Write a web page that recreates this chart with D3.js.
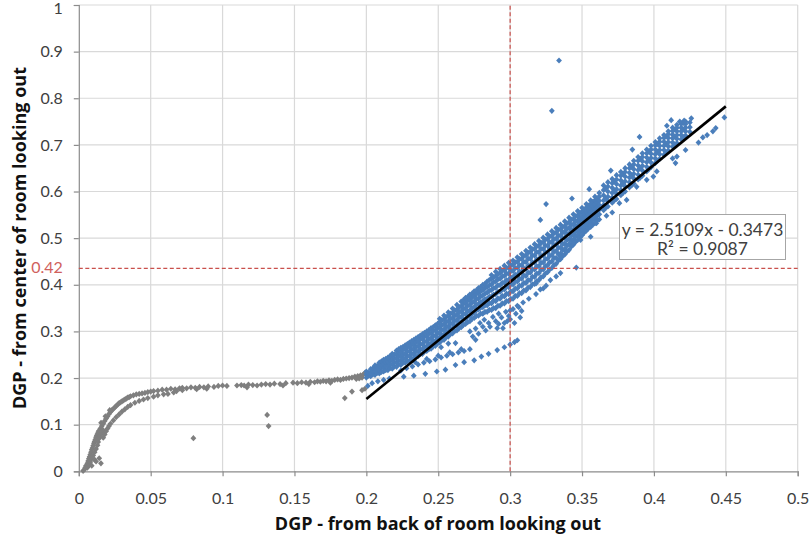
<!DOCTYPE html>
<html><head><meta charset="utf-8">
<script src="https://cdn.jsdelivr.net/npm/d3@7"></script>
<style>body{margin:0;background:#fff}svg{display:block}</style>
</head><body>
<svg id="c" width="810" height="547"></svg>
<script>
// ---------- data ----------
const xTicks = [0, 0.05, 0.1, 0.15, 0.2, 0.25, 0.3, 0.35, 0.4, 0.45, 0.5];
const xTickLabels = ["0", "0.05", "0.1", "0.15", "0.2", "0.25", "0.3", "0.35", "0.4", "0.45", "0.5"];
const yTicks = [0, 0.1, 0.2, 0.3, 0.4, 0.5, 0.6, 0.7, 0.8, 0.9, 1];
const yTickLabels = ["0", "0.1", "0.2", "0.3", "0.4", "0.5", "0.6", "0.7", "0.8", "0.9", "1"];
const xTitle = "DGP - from back of room looking out";
const yTitle = "DGP - from center of room looking out";
const refX = 0.3;            // vertical marker line
const refYDrawn = 0.435;     // horizontal marker line as drawn in the picture
const refYLabel = "0.42";
const trendSlope = 2.5109, trendIntercept = -0.3473, trendDomain = [0.2, 0.45];
const eqLines = ["y = 2.5109x - 0.3473", "R\u00B2 = 0.9087"];

// gray series (x < 0.2)
const grayPts = [
[0.003,0.001],[0.004,0.004],[0.0045,0.008],[0.005,0.012],[0.006,0.017],[0.0065,0.022],[0.007,0.027],[0.0075,0.031],[0.008,0.036],[0.0085,0.041],[0.009,0.046],[0.0095,0.05],[0.010,0.055],[0.0105,0.06],[0.011,0.064],[0.0115,0.068],[0.012,0.073],[0.0125,0.077],[0.013,0.08],[0.0135,0.084],[0.014,0.087],[0.015,0.092],[0.016,0.097],[0.017,0.102],[0.018,0.108],[0.019,0.113],[0.020,0.118],[0.021,0.123],[0.022,0.127],[0.023,0.131],[0.024,0.134],[0.025,0.137],[0.026,0.140],[0.027,0.143],[0.028,0.146],[0.029,0.148],[0.030,0.150],[0.031,0.152],[0.032,0.154],[0.033,0.156],[0.034,0.158],[0.035,0.159],[0.036,0.161],[0.038,0.163],[0.040,0.165],[0.042,0.166],[0.044,0.167],[0.046,0.168],[0.048,0.170],[0.050,0.171],
[0.006,0.008],[0.007,0.013],[0.008,0.02],[0.009,0.027],[0.010,0.034],[0.011,0.041],[0.012,0.048],[0.013,0.056],[0.0135,0.063],[0.014,0.07],[0.015,0.076],[0.016,0.082],[0.017,0.088],[0.009,0.012],[0.011,0.025],[0.0155,0.104],[0.0185,0.118],[0.0215,0.131],
[0.017,0.072],[0.018,0.079],[0.019,0.086],[0.020,0.092],[0.021,0.097],[0.022,0.102],[0.024,0.109],[0.026,0.116],[0.028,0.122],[0.030,0.128],[0.032,0.133],[0.034,0.138],[0.036,0.142],[0.039,0.147],[0.042,0.151],[0.045,0.154],[0.048,0.157],[0.052,0.160],[0.055,0.163],[0.059,0.165],[0.062,0.166],[0.066,0.169],
[0.012,0.021],[0.0154,0.017],[0.0142,0.028],[0.0797,0.071],[0.131,0.121],[0.132,0.097],[0.185,0.157],[0.19,0.171],[0.197,0.174],[0.199,0.177],
[0.052,0.172],[0.055,0.173],[0.058,0.175],[0.061,0.175],[0.064,0.177],[0.067,0.176],[0.070,0.178],[0.072,0.179],[0.075,0.178],[0.078,0.180],[0.081,0.179],[0.084,0.181],[0.087,0.180],[0.090,0.182],[0.094,0.181],[0.097,0.183],[0.100,0.184],[0.103,0.183],
[0.110,0.184],[0.113,0.185],[0.115,0.184],[0.118,0.186],[0.121,0.185],[0.124,0.184],[0.127,0.186],[0.130,0.187],[0.133,0.186],[0.136,0.188],[0.140,0.187],[0.144,0.189],[0.149,0.190],[0.152,0.189],[0.155,0.191],[0.158,0.190],[0.161,0.192],[0.164,0.191],[0.166,0.193],[0.168,0.192],[0.170,0.194],[0.172,0.193],[0.174,0.195],[0.176,0.194],[0.178,0.196],[0.180,0.197],[0.182,0.196],[0.184,0.198],[0.186,0.199],[0.188,0.200],[0.190,0.201],[0.192,0.203],[0.194,0.204],[0.196,0.206],[0.198,0.208],[0.199,0.211],[0.197,0.201],[0.195,0.199],[0.193,0.198],
[0.068,0.172],[0.072,0.174],[0.082,0.176],[0.089,0.177],[0.117,0.180],[0.142,0.184],[0.160,0.187],[0.175,0.190]
];

// blue series: dense band, listed as columns [x, [y values]]
const blueBand = [
[0.200,[0.201,0.208,0.214]],[0.2015,[0.205,0.211]],
[0.203,[0.204,0.211,0.219]],[0.2045,[0.208,0.215,0.221]],
[0.206,[0.207,0.214,0.222,0.227]],[0.2075,[0.211,0.219,0.226]],
[0.209,[0.210,0.218,0.226,0.233]],[0.2105,[0.213,0.222,0.229,0.236]],
[0.212,[0.214,0.222,0.231,0.239]],[0.2135,[0.217,0.226,0.234,0.241]],
[0.215,[0.217,0.226,0.235,0.244]],[0.2165,[0.221,0.230,0.239,0.247]],
[0.218,[0.220,0.229,0.238,0.247,0.252]],[0.2195,[0.225,0.234,0.243,0.251]],
[0.221,[0.224,0.233,0.242,0.251,0.259]],[0.2225,[0.229,0.238,0.247,0.256,0.262]],
[0.224,[0.228,0.237,0.247,0.256,0.265]],[0.2255,[0.233,0.242,0.251,0.261,0.267]],
[0.227,[0.233,0.242,0.252,0.262,0.270]],[0.2285,[0.237,0.247,0.257,0.266,0.273]],
[0.230,[0.237,0.247,0.257,0.267,0.276]],[0.2315,[0.242,0.252,0.262,0.271,0.279]],
[0.233,[0.242,0.252,0.262,0.272,0.282]],[0.2345,[0.246,0.257,0.267,0.277,0.285]],
[0.236,[0.247,0.257,0.268,0.278,0.288]],[0.2375,[0.251,0.262,0.272,0.283,0.291]],
[0.239,[0.252,0.262,0.273,0.284,0.294]],[0.2405,[0.257,0.267,0.278,0.289,0.297]],
[0.242,[0.258,0.268,0.279,0.290,0.300]],[0.2435,[0.262,0.273,0.284,0.295,0.303]],
[0.245,[0.263,0.274,0.285,0.296,0.307]],[0.2465,[0.268,0.279,0.290,0.301,0.309]],
[0.248,[0.269,0.280,0.291,0.302,0.313]],[0.2495,[0.274,0.285,0.296,0.307,0.316]],
[0.251,[0.276,0.287,0.298,0.309,0.320,0.327]],[0.2525,[0.281,0.292,0.303,0.314,0.324]],
[0.254,[0.282,0.293,0.304,0.315,0.326,0.334]],[0.2555,[0.287,0.298,0.309,0.320,0.331]],
[0.257,[0.289,0.300,0.311,0.322,0.333,0.341]],[0.2585,[0.294,0.305,0.316,0.327,0.338]],
[0.260,[0.296,0.307,0.318,0.329,0.340,0.349]],[0.2615,[0.301,0.312,0.323,0.334,0.345]],
[0.263,[0.302,0.313,0.324,0.336,0.347,0.357]],[0.2645,[0.307,0.318,0.330,0.341,0.352]],
[0.266,[0.309,0.320,0.331,0.343,0.354,0.364]],[0.2675,[0.314,0.325,0.337,0.348,0.359,0.367]],
[0.269,[0.316,0.327,0.338,0.350,0.361,0.372]],[0.2705,[0.320,0.332,0.343,0.355,0.366,0.374]],
[0.272,[0.322,0.334,0.345,0.357,0.368,0.379]],[0.2735,[0.327,0.338,0.350,0.362,0.373,0.381]],
[0.275,[0.329,0.341,0.352,0.364,0.375,0.386]],[0.2765,[0.333,0.345,0.357,0.369,0.380,0.388]],
[0.278,[0.334,0.347,0.359,0.371,0.382,0.393]],[0.2795,[0.338,0.351,0.363,0.375,0.386,0.395]],
[0.281,[0.338,0.352,0.365,0.377,0.389,0.400]],[0.2825,[0.342,0.356,0.369,0.381,0.393,0.402]],
[0.284,[0.342,0.356,0.370,0.383,0.395,0.407]],[0.2855,[0.346,0.361,0.374,0.387,0.399,0.410]],
[0.287,[0.346,0.360,0.375,0.389,0.401,0.413,0.421]],[0.2885,[0.350,0.366,0.379,0.393,0.406,0.416]],
[0.290,[0.350,0.365,0.380,0.394,0.407,0.419,0.428]],[0.2915,[0.355,0.371,0.385,0.399,0.412,0.423]],
[0.293,[0.355,0.370,0.385,0.399,0.413,0.425,0.434]],[0.2945,[0.360,0.376,0.390,0.404,0.418,0.430]],
[0.296,[0.360,0.375,0.390,0.405,0.419,0.431,0.441]],[0.2975,[0.365,0.381,0.396,0.410,0.424,0.436]],
[0.299,[0.365,0.380,0.395,0.410,0.424,0.437,0.447]],[0.3005,[0.370,0.386,0.401,0.416,0.430,0.442]],
[0.302,[0.370,0.386,0.401,0.416,0.430,0.443,0.452]],[0.3035,[0.376,0.392,0.407,0.422,0.436,0.448]],
[0.305,[0.376,0.392,0.407,0.422,0.436,0.449,0.459]],[0.3065,[0.382,0.398,0.413,0.428,0.442,0.455]],
[0.308,[0.382,0.398,0.413,0.428,0.442,0.456,0.466]],[0.3095,[0.388,0.404,0.420,0.435,0.449,0.462]],
[0.311,[0.388,0.404,0.419,0.434,0.449,0.463,0.473]],[0.3125,[0.394,0.410,0.426,0.441,0.456,0.469]],
[0.314,[0.395,0.410,0.426,0.441,0.456,0.470,0.480]],[0.3155,[0.401,0.417,0.433,0.448,0.463,0.476]],
[0.317,[0.402,0.417,0.433,0.448,0.463,0.477,0.487]],[0.3185,[0.408,0.424,0.440,0.455,0.470,0.483]],
[0.320,[0.410,0.425,0.440,0.455,0.470,0.484,0.494]],[0.3215,[0.416,0.432,0.447,0.462,0.477,0.490]],
[0.323,[0.418,0.433,0.448,0.463,0.477,0.491,0.501]],[0.3245,[0.424,0.440,0.455,0.470,0.484,0.497]],
[0.326,[0.427,0.442,0.456,0.470,0.484,0.498,0.508]],[0.3275,[0.433,0.448,0.462,0.477,0.491,0.504]],
[0.329,[0.436,0.450,0.464,0.478,0.492,0.505,0.515]],[0.3305,[0.442,0.457,0.471,0.485,0.498,0.511]],
[0.332,[0.445,0.458,0.472,0.486,0.499,0.512,0.522]],[0.3335,[0.452,0.466,0.479,0.492,0.505,0.518]],
[0.335,[0.455,0.467,0.480,0.493,0.506,0.519,0.529]],[0.3365,[0.461,0.474,0.487,0.500,0.512,0.524]],
[0.338,[0.465,0.477,0.489,0.501,0.514,0.526,0.536]],[0.3395,[0.471,0.484,0.496,0.508,0.520,0.532]],
[0.341,[0.475,0.487,0.498,0.510,0.522,0.534,0.544]],[0.3425,[0.482,0.494,0.505,0.517,0.528,0.540]],
[0.344,[0.486,0.497,0.508,0.519,0.530,0.541,0.551]],[0.3455,[0.492,0.503,0.514,0.525,0.536,0.547]],
[0.347,[0.496,0.507,0.518,0.528,0.538,0.549,0.558]],[0.3485,[0.502,0.513,0.523,0.533,0.543,0.554]],
[0.350,[0.506,0.517,0.527,0.537,0.547,0.557,0.565]],[0.3515,[0.512,0.522,0.532,0.542,0.552,0.562]],
[0.353,[0.516,0.526,0.536,0.546,0.556,0.565,0.573]],[0.3545,[0.521,0.531,0.541,0.551,0.560,0.570]],
[0.356,[0.524,0.534,0.544,0.554,0.564,0.573,0.581]],[0.3575,[0.529,0.539,0.549,0.559,0.568,0.578]],
[0.359,[0.532,0.542,0.552,0.562,0.572,0.581,0.589]],[0.3605,[0.538,0.548,0.558,0.567,0.577,0.586]],
[0.362,[0.540,0.551,0.561,0.571,0.580,0.589,0.597]],
[0.365,[0.560,0.571,0.581,0.592,0.603,0.613]],[0.3665,[0.565,0.586,0.607]],
[0.368,[0.568,0.579,0.589,0.600,0.611,0.620]],
[0.371,[0.576,0.587,0.597,0.608,0.618,0.627]],[0.3725,[0.581,0.602,0.622]],
[0.374,[0.584,0.595,0.605,0.616,0.626,0.635]],
[0.377,[0.592,0.603,0.613,0.624,0.634,0.642]],[0.3785,[0.597,0.618,0.638]],
[0.380,[0.600,0.611,0.622,0.632,0.642,0.650]],
[0.383,[0.609,0.620,0.630,0.640,0.650,0.658]],[0.3845,[0.613,0.634,0.653]],
[0.386,[0.617,0.628,0.638,0.648,0.658,0.666]],
[0.389,[0.626,0.636,0.646,0.656,0.666,0.674]],[0.3905,[0.630,0.651,0.670]],
[0.392,[0.634,0.645,0.655,0.665,0.674,0.682]],
[0.395,[0.643,0.653,0.663,0.673,0.682,0.690]],[0.3965,[0.648,0.668,0.686]],
[0.398,[0.652,0.662,0.672,0.681,0.690,0.698]],
[0.401,[0.661,0.671,0.680,0.690,0.699,0.706]],[0.4025,[0.666,0.685,0.702]],
[0.404,[0.670,0.680,0.689,0.698,0.707,0.714]],
[0.407,[0.679,0.689,0.698,0.707,0.715,0.721]],[0.4085,[0.684,0.702,0.718]],
[0.410,[0.688,0.697,0.706,0.715,0.723,0.729]],
[0.413,[0.696,0.705,0.714,0.722,0.730,0.737]],[0.4145,[0.701,0.718,0.733]],
[0.416,[0.704,0.713,0.721,0.729,0.737,0.743]],
[0.419,[0.712,0.721,0.729,0.737,0.745]],[0.4205,[0.716,0.733,0.747]],
[0.422,[0.720,0.729,0.737,0.745,0.750]],
[0.425,[0.728,0.738,0.748]]
];

// blue series: scattered points and side streaks
const bluePts = [
[0.201,0.183],[0.204,0.189],[0.208,0.193],[0.212,0.196],[0.216,0.199],
[0.224,0.216],[0.228,0.221],[0.232,0.225],[0.236,0.229],[0.240,0.233],[0.244,0.236],[0.248,0.240],[0.252,0.244],[0.256,0.248],[0.260,0.251],[0.264,0.255],[0.268,0.258],[0.272,0.262],[0.234,0.234],[0.242,0.241],[0.250,0.248],[0.258,0.255],[0.266,0.262],
[0.226,0.203],[0.233,0.205],[0.241,0.209],[0.249,0.214],[0.255,0.218],[0.262,0.228],[0.268,0.234],[0.275,0.238],[0.280,0.246],[0.285,0.252],[0.291,0.260],[0.296,0.266],[0.300,0.272],[0.303,0.277],[0.305,0.281],[0.257,0.274],[0.262,0.275],[0.276,0.282],[0.252,0.266],
[0.274,0.289],[0.278,0.295],[0.283,0.302],[0.286,0.310],[0.292,0.316],[0.295,0.307],[0.298,0.322],
[0.272,0.300],[0.276,0.306],[0.279,0.318],[0.282,0.325],[0.285,0.318],[0.288,0.331],[0.290,0.322],[0.292,0.338],[0.294,0.330],[0.297,0.342],[0.299,0.333],[0.302,0.348],[0.304,0.338],[0.306,0.352],[0.308,0.344],[0.281,0.310],[0.291,0.307],[0.296,0.318],[0.300,0.326],[0.303,0.318],[0.307,0.330],
[0.300,0.345],[0.305,0.355],[0.309,0.362],[0.313,0.370],[0.318,0.380],[0.321,0.390],[0.325,0.398],[0.328,0.410],[0.332,0.418],[0.318,0.403],[0.323,0.392],
[0.335,0.425],[0.346,0.437],[0.335,0.460],[0.339,0.471],[0.344,0.489],[0.349,0.496],[0.356,0.503],[0.360,0.532],[0.351,0.525],[0.356,0.528],
[0.367,0.548],[0.371,0.555],[0.376,0.575],[0.381,0.582],[0.388,0.610],[0.395,0.625],[0.3996,0.632],[0.402,0.643],[0.413,0.671],[0.416,0.675],[0.415,0.661],[0.422,0.689],[0.431,0.705],[0.434,0.716],[0.437,0.721],[0.443,0.736],[0.449,0.759],[0.441,0.729],
[0.321,0.539],[0.325,0.573],[0.390,0.717],[0.385,0.690],[0.409,0.741],[0.412,0.753],[0.421,0.752],[0.426,0.757],[0.418,0.750],[0.329,0.773],[0.334,0.881],[0.343,0.585],[0.355,0.605],[0.370,0.645]
];

// ---------- drawing ----------
const svg = d3.select("#c");
const x = d3.scaleLinear().domain([0, 0.5]).range([78.8, 797.7]);
const y = d3.scaleLinear().domain([0, 1]).range([471.3, 5]);
const font = "Lato, 'Open Sans', sans-serif";
const titleFont = "'Open Sans', 'DejaVu Sans', sans-serif";
const textCol = "#404040";

// gridlines
svg.append("g").selectAll("line").data(xTicks.slice(1)).join("line")
  .attr("x1", d => x(d)).attr("x2", d => x(d)).attr("y1", y(0)).attr("y2", y(1))
  .attr("stroke", "#d9d9d9").attr("stroke-width", 1.2);
svg.append("g").selectAll("line").data(yTicks.slice(1)).join("line")
  .attr("x1", x(0)).attr("x2", x(0.5)).attr("y1", d => y(d)).attr("y2", d => y(d))
  .attr("stroke", "#d9d9d9").attr("stroke-width", 1.2);

// axes
const xAxis = d3.axisBottom(x).tickValues(xTicks).tickSize(5).tickFormat((d, i) => xTickLabels[i]);
const yAxis = d3.axisLeft(y).tickValues(yTicks).tickSize(5).tickFormat((d, i) => yTickLabels[i]);
const gx = svg.append("g").attr("transform", `translate(0,${y(0)})`).call(xAxis);
const gy = svg.append("g").attr("transform", `translate(${x(0)},0)`).call(yAxis);
[gx, gy].forEach(g => {
  g.select(".domain").attr("stroke", "#8c8c8c").attr("stroke-width", 1.2);
  g.selectAll(".tick line").attr("stroke", "#8c8c8c").attr("stroke-width", 1.2);
  g.selectAll(".tick text").attr("fill", textCol).style("font-family", font).style("font-size", "16px");
});
gx.selectAll(".tick text").attr("dy", "0").attr("y", 33);
gy.selectAll(".tick text").attr("x", -16);
gy.selectAll(".tick").filter(d => d === 1).select("text").attr("dy", "0.5em");

// diamond marker
const dia = "M0,-3.1L2.9,0L0,3.1L-2.9,0Z";

svg.append("g").selectAll("path").data(grayPts).join("path")
  .attr("d", dia).attr("transform", d => `translate(${x(d[0])},${y(d[1])})`)
  .attr("fill", "#7f7f7f");

const blueAll = blueBand.flatMap(([bx, ys]) => ys.map(v => [bx, v])).concat(bluePts);
svg.append("g").selectAll("path").data(blueAll).join("path")
  .attr("d", dia).attr("transform", d => `translate(${x(d[0])},${y(d[1])})`)
  .attr("fill", "#4a7ebb");

// trend line
svg.append("line")
  .attr("x1", x(trendDomain[0])).attr("y1", y(trendSlope * trendDomain[0] + trendIntercept))
  .attr("x2", x(trendDomain[1])).attr("y2", y(trendSlope * trendDomain[1] + trendIntercept))
  .attr("stroke", "#000").attr("stroke-width", 2.6);

// reference lines
const red = "#c9504c";
svg.append("line").attr("x1", x(0)).attr("x2", x(0.5)).attr("y1", y(refYDrawn)).attr("y2", y(refYDrawn))
  .attr("stroke", red).attr("stroke-width", 1.2).attr("stroke-dasharray", "4,2.5");
svg.append("line").attr("x1", x(refX)).attr("x2", x(refX)).attr("y1", y(0)).attr("y2", y(1))
  .attr("stroke", red).attr("stroke-width", 1.2).attr("stroke-dasharray", "4,2.5");
svg.append("text").attr("x", x(0) - 16).attr("y", y(refYDrawn) - 1).attr("dy", "0.32em")
  .attr("text-anchor", "end").attr("fill", "#d0605c")
  .style("font-family", font).style("font-size", "16px").text(refYLabel);

// equation box
const box = svg.append("g");
box.append("rect").attr("x", 619.5).attr("y", 214.5).attr("width", 166).attr("height", 45)
  .attr("fill", "#fff").attr("stroke", "#a6a6a6").attr("stroke-width", 1);
box.selectAll("text").data(eqLines).join("text")
  .attr("x", 702.5).attr("y", (d, i) => 230 + i * 19).attr("dy", "0.35em")
  .attr("text-anchor", "middle").attr("fill", textCol)
  .style("font-family", font).style("font-size", "17.5px").text(d => d);

// titles
svg.append("text").attr("x", 438).attr("y", 524).attr("dy", "0.35em").attr("text-anchor", "middle")
  .attr("fill", "#111").style("font-family", titleFont).style("font-weight", "700").style("font-size", "18px")
  .text(xTitle);
svg.append("text").attr("transform", "translate(20,238) rotate(-90)").attr("dy", "0.35em")
  .attr("text-anchor", "middle")
  .attr("fill", "#111").style("font-family", titleFont).style("font-weight", "700").style("font-size", "18px")
  .text(yTitle);
</script>
</body></html>
